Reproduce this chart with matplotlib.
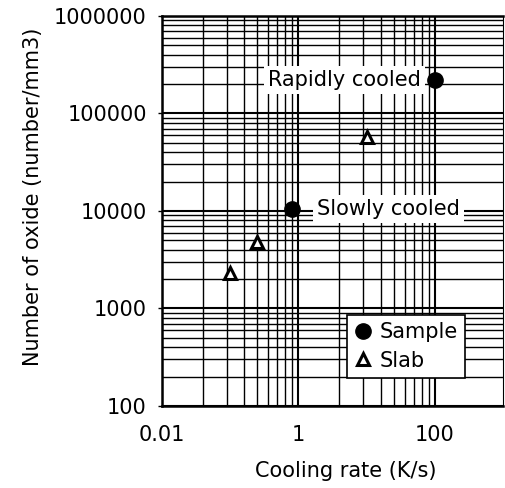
import numpy as np
import matplotlib
matplotlib.use("Agg")
import matplotlib.pyplot as plt
from matplotlib.ticker import FixedLocator, FixedFormatter, LogLocator, NullFormatter

# values
sample_rate = [0.8, 100]
sample_num = [10500, 220000]
slab_rate = [0.1, 0.25, 10]
slab_num = [2300, 4800, 58000]

x_ticks = [0.01, 1, 100]
x_tick_labels = ["0.01", "1", "100"]
y_ticks = [100, 1000, 10000, 100000, 1000000]
y_tick_labels = ["100", "1000", "10000", "100000", "1000000"]

plt.rcParams["font.family"] = ["DejaVu Sans"]
plt.rcParams["font.size"] = 15

fig = plt.figure(figsize=(5.05, 4.88), dpi=100)
ax = fig.add_axes([162 / 505, 1 - 406 / 488, 341 / 505, 390 / 488])

ax.set_xscale("log")
ax.set_yscale("log")
ax.set_xlim(0.01, 1000)
ax.set_ylim(100, 1000000)

# x grid is "log base 100": a decade pattern stretched over two decades
x_minor = [10 ** (2 * (k + np.log10(n))) for k in (-1, 0) for n in range(2, 10)]
ax.xaxis.set_major_locator(FixedLocator(x_ticks))
ax.xaxis.set_major_formatter(FixedFormatter(x_tick_labels))
ax.xaxis.set_minor_locator(FixedLocator(x_minor))
ax.xaxis.set_minor_formatter(NullFormatter())

ax.yaxis.set_major_locator(FixedLocator(y_ticks))
ax.yaxis.set_major_formatter(FixedFormatter(y_tick_labels))
ax.yaxis.set_minor_locator(LogLocator(base=10, subs=np.arange(2, 10)))
ax.yaxis.set_minor_formatter(NullFormatter())

ax.grid(which="major", color="black", linewidth=1.5)
ax.grid(which="minor", color="black", linewidth=1.0)
ax.set_axisbelow(True)
ax.tick_params(which="minor", length=0)
ax.tick_params(which="major", length=3, width=1, direction="out", labelsize=15, pad=8)
ax.tick_params(axis="x", length=0, pad=14)

for side in ("left", "bottom", "top"):
    ax.spines[side].set_linewidth(1.8)
ax.spines["right"].set_linewidth(0.8)

ax.plot(sample_rate, sample_num, "o", color="black", markersize=11,
        linestyle="none", label="Sample", zorder=5)
ax.plot(slab_rate, slab_num, "^", markerfacecolor="white", markeredgecolor="black",
        markeredgewidth=2.2, markersize=8.5, linestyle="none", label="Slab", zorder=5)

box = dict(facecolor="white", edgecolor="none", pad=3)
ax.annotate("Rapidly cooled", xy=(sample_rate[1], sample_num[1]), xytext=(-10, 0),
            textcoords="offset points", ha="right", va="center", fontsize=15,
            bbox=box, zorder=4)
ax.annotate("Slowly cooled", xy=(sample_rate[0], sample_num[0]), xytext=(18, 0),
            textcoords="offset points", ha="left", va="center", fontsize=15,
            bbox=box, zorder=4)

leg = ax.legend(loc="lower right", bbox_to_anchor=(0.889, 0.072), borderaxespad=0,
                fancybox=False, framealpha=1, edgecolor="black", fontsize=15,
                handlelength=0.8, handletextpad=0.4, borderpad=0.35, labelspacing=0.4)
leg.get_frame().set_linewidth(1.2)
leg.set_zorder(6)

ax.set_xlabel("Cooling rate (K/s)", fontsize=15)
ax.set_ylabel("Number of oxide (number/mm3)", fontsize=15)
ax.xaxis.set_label_coords(0.54, -0.14)
ax.yaxis.set_label_coords(-0.35, 0.536)

fig.savefig("out.png", dpi=100)
